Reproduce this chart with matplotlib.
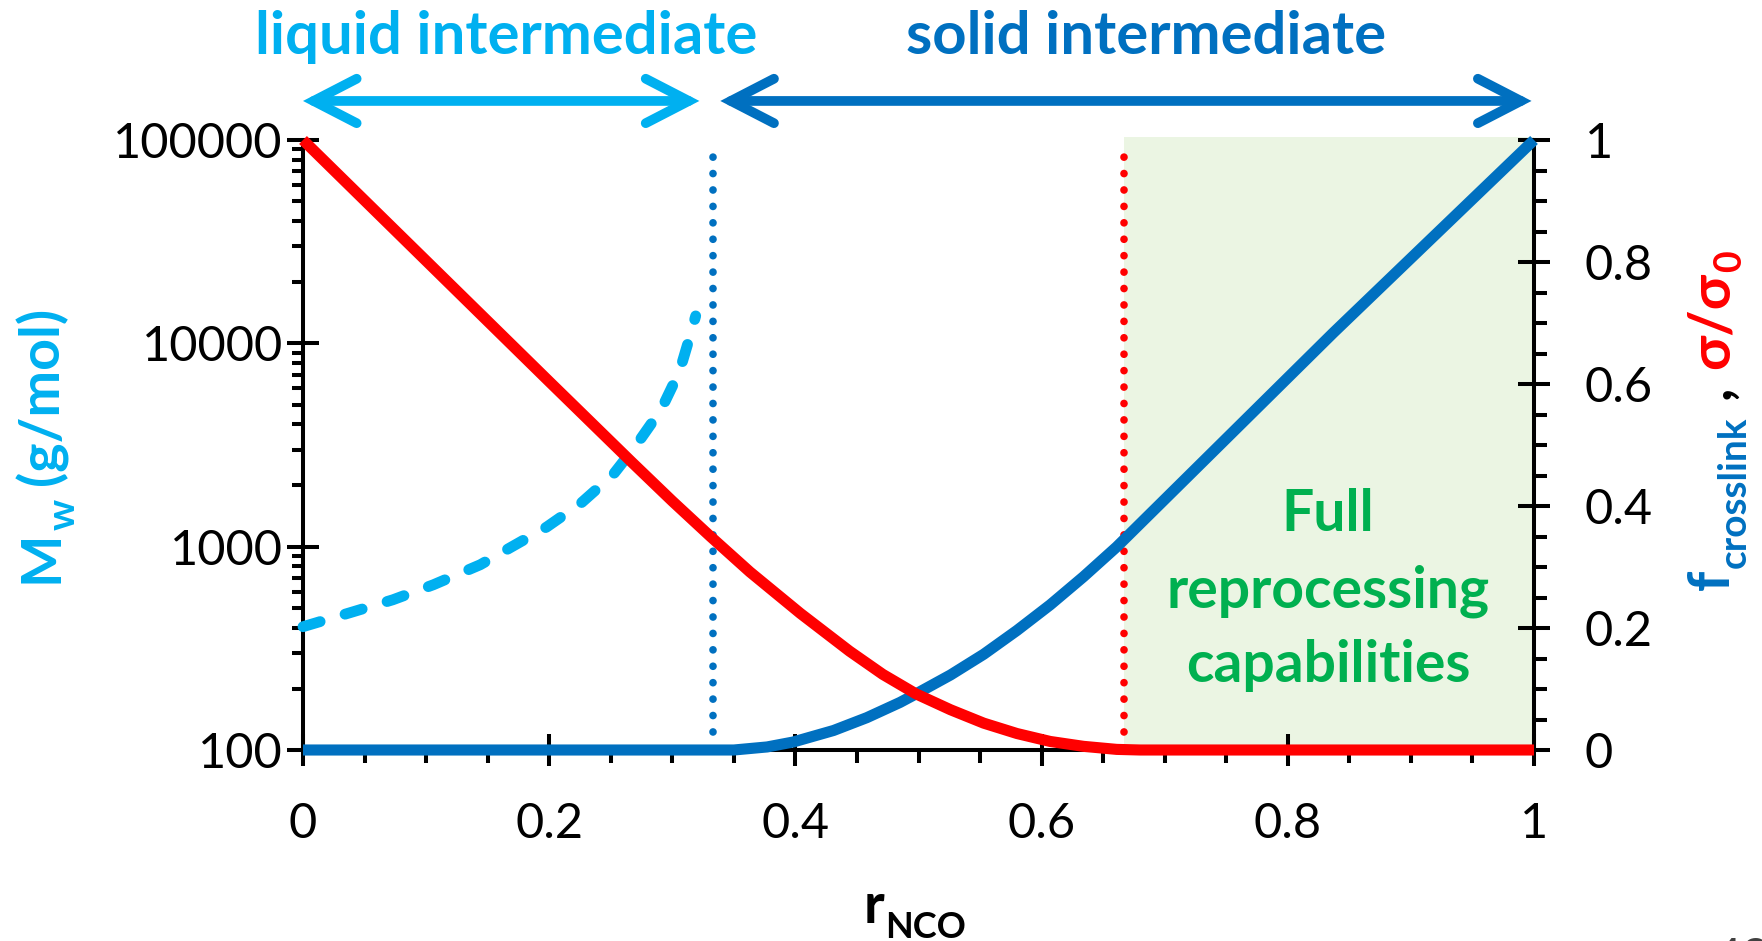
import numpy as np
import matplotlib.pyplot as plt
from matplotlib.ticker import LogLocator, MultipleLocator, NullFormatter
from matplotlib.transforms import IdentityTransform

plt.rcParams['font.family'] = ['Lato', 'DejaVu Sans']

LIGHT_BLUE = '#00B0F0'
DARK_BLUE = '#0070C0'
RED = '#FF0000'
GREEN = '#00B050'
SHADE = '#EBF5E3'

# weight-average molar mass of the liquid intermediate (left, log axis)
r_mw = [0, 0.038, 0.073, 0.106, 0.144, 0.168, 0.198, 0.226, 0.252, 0.271,
        0.291, 0.306, 0.316, 0.319]
mw = [404, 473, 548, 650, 815, 986, 1250, 1641, 2265, 3177,
      4729, 7310, 11720, 13640]

# crosslinked fraction (right axis)
r_cross = [0, 0.333, 0.35, 0.377, 0.398, 0.431, 0.458, 0.485, 0.498, 0.526,
           0.553, 0.580, 0.607, 0.634, 0.661, 0.837, 1.0]
f_cross = [0, 0, 0.0, 0.005, 0.013, 0.032, 0.053, 0.078, 0.092, 0.123,
           0.157, 0.196, 0.238, 0.284, 0.333, 0.684, 1.0]

# relative stress sigma/sigma0 (right axis)
r_stress = [0, 0.1, 0.2, 0.267, 0.3, 0.331, 0.363, 0.404, 0.444, 0.471,
            0.498, 0.526, 0.553, 0.580, 0.607, 0.634, 0.661, 0.68, 1.0]
stress = [1, 0.802, 0.604, 0.472, 0.408, 0.350, 0.292, 0.224, 0.162, 0.124,
          0.092, 0.066, 0.044, 0.027, 0.014, 0.006, 0.001, 0, 0]

r_liquid_limit = 1 / 3
r_full_reprocessing = 2 / 3

x_ticks = [0, 0.2, 0.4, 0.6, 0.8, 1]
x_ticklabels = ['0', '0.2', '0.4', '0.6', '0.8', '1']
left_ticks = [100, 1000, 10000, 100000]
left_ticklabels = ['100', '1000', '10000', '100000']
right_ticks = [0, 0.2, 0.4, 0.6, 0.8, 1]
right_ticklabels = ['0', '0.2', '0.4', '0.6', '0.8', '1']

fig = plt.figure(figsize=(17.62, 9.41), dpi=100)
ax = fig.add_axes([303 / 1762, 191 / 941, 1231 / 1762, 610 / 941])
ax2 = ax.twinx()

ax.set_xlim(0, 1)
ax.set_yscale('log')
ax.set_ylim(100, 100000)
ax2.set_ylim(0, 1)

for side in ['top', 'right']:
    ax.spines[side].set_visible(False)
for side in ['top', 'left', 'bottom']:
    ax2.spines[side].set_visible(False)
for a in [ax, ax2]:
    for sp in a.spines.values():
        sp.set_linewidth(2.9)

ax.set_xticks(x_ticks, x_ticklabels)
ax.xaxis.set_minor_locator(MultipleLocator(0.05))
ax.tick_params(axis='x', which='major', direction='inout', length=23, width=2.9,
               pad=26, labelsize=35)
ax.tick_params(axis='x', which='minor', direction='out', length=9.5, width=2.9)

ax.set_yticks(left_ticks, left_ticklabels)
ax.yaxis.set_minor_locator(LogLocator(base=10, subs=np.arange(2, 10)))
ax.yaxis.set_minor_formatter(NullFormatter())
ax.tick_params(axis='y', which='major', direction='inout', length=23, width=2.9,
               pad=3, labelsize=35)
ax.tick_params(axis='y', which='minor', direction='out', length=8, width=2.9)

ax2.set_yticks(right_ticks, right_ticklabels)
ax2.yaxis.set_minor_locator(MultipleLocator(0.05))
ax2.tick_params(axis='y', which='major', direction='inout', length=23, width=2.9,
                pad=25, labelsize=35)
ax2.tick_params(axis='y', which='minor', direction='out', length=9.5, width=2.9)

# region where the network can be fully reprocessed
ax.axvspan(r_full_reprocessing, 1, ymax=1.005, color=SHADE, lw=0, zorder=0, clip_on=False)

ax.plot(r_mw, mw, color=LIGHT_BLUE, lw=7.8, ls=(0, (1.65, 2.4)),
        dash_capstyle='round', zorder=3, clip_on=False)

ax2.axvline(r_liquid_limit, ymin=0.03, ymax=0.99, color=DARK_BLUE, lw=5.5,
            ls=(0, (0.01, 2.14)), dash_capstyle='round', zorder=2)
ax2.axvline(r_full_reprocessing, ymin=0.03, ymax=0.99, color=RED, lw=5.5,
            ls=(0, (0.01, 2.14)), dash_capstyle='round', zorder=2)

ax2.plot(r_cross, f_cross, color=DARK_BLUE, lw=8, solid_capstyle='butt',
         solid_joinstyle='round', zorder=4, clip_on=False)
ax2.plot(r_stress, stress, color=RED, lw=8, solid_capstyle='butt',
         solid_joinstyle='round', zorder=5, clip_on=False)

ax.text(0.8327, 0.359, 'Full', transform=ax.get_xaxis_transform(), ha='center',
        va='baseline', fontsize=41, fontweight='bold', color=GREEN, zorder=6)
ax.text(0.8327, 0.234, 'reprocessing', transform=ax.get_xaxis_transform(), ha='center',
        va='baseline', fontsize=41, fontweight='bold', color=GREEN, zorder=6)
ax.text(0.8327, 0.111, 'capabilities', transform=ax.get_xaxis_transform(), ha='center',
        va='baseline', fontsize=41, fontweight='bold', color=GREEN, zorder=6)

# ranges of the two intermediates above the plot
trans = ax.get_xaxis_transform()
for x0, x1, color in [(0, 0.322, LIGHT_BLUE), (0.339, 0.998, DARK_BLUE)]:
    ax.annotate('', xy=(x1, 1.064), xytext=(x0, 1.064), xycoords=trans, textcoords=trans,
                annotation_clip=False,
                arrowprops=dict(arrowstyle='<->,head_length=1.55,head_width=0.8',
                                mutation_scale=20, lw=7, color=color,
                                shrinkA=0, shrinkB=0, capstyle='round', joinstyle='miter'))
ax.text(0.165, 1.141, 'liquid intermediate', transform=trans, ha='center', va='baseline',
        fontsize=43, fontweight='bold', color=LIGHT_BLUE)
ax.text(0.685, 1.141, 'solid intermediate', transform=trans, ha='center', va='baseline',
        fontsize=43, fontweight='bold', color=DARK_BLUE)


def text_run(x, y, pieces, vertical=False):
    """Write bold pieces one after the other, centred on (x, y) in pixels."""
    renderer = fig.canvas.get_renderer()
    placed = []
    for s, size, color, drop, gap in pieces:
        t = fig.text(0, 0, s, fontsize=size, color=color, fontweight='bold',
                     rotation=90 if vertical else 0, rotation_mode='anchor',
                     ha='left', va='baseline', transform=IdentityTransform())
        bb = t.get_window_extent(renderer)
        placed.append((t, bb.height if vertical else bb.width, drop, gap))
    total = sum(length + gap for _, length, _, gap in placed)
    pos = -total / 2
    for t, length, drop, gap in placed:
        pos += gap
        if vertical:
            t.set_position((x + drop, y + pos))
        else:
            t.set_position((x + pos, y - drop))
        pos += length


text_run(58, 496, [('M', 40, LIGHT_BLUE, 0, 0),
                   ('w', 28, LIGHT_BLUE, 17, 0),
                   ('(g/mol)', 40, LIGHT_BLUE, 0, 14)], vertical=True)
text_run(1729, 521, [('f', 41, DARK_BLUE, 0, 0),
                     ('crosslink', 28, DARK_BLUE, 17, 2),
                     (',', 41, 'black', 0, 17),
                     ('σ/σ', 41, RED, 0, 17),
                     ('0', 27, RED, 12, 0)], vertical=True)
text_run(915, 18, [('r', 40, 'black', 0, 0),
                   ('NCO', 26, 'black', 15, 1)])

# slide number at the lower edge
fig.text(1713, -32, '43', transform=IdentityTransform(), fontsize=35, color='#404040',
         ha='left', va='baseline')

fig.savefig('out.png', dpi=100)
